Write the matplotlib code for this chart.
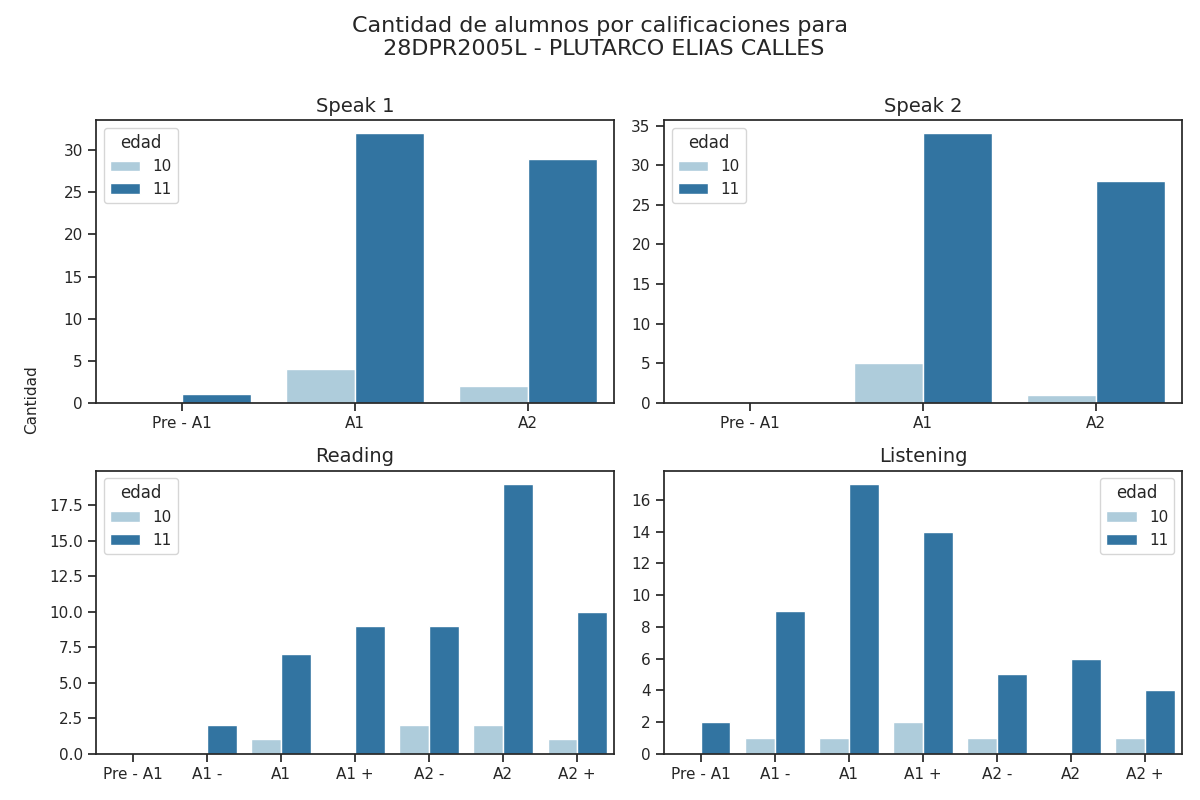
import matplotlib
matplotlib.use("Agg")
import matplotlib.pyplot as plt
import seaborn as sns
import pandas as pd

sns.set_theme(style="ticks")

ages = [10, 11]
speak_cats = ["Pre - A1", "A1", "A2"]
full_cats = ["Pre - A1", "A1 -", "A1", "A1 +", "A2 -", "A2", "A2 +"]

speak1_10 = [0, 4, 2]
speak1_11 = [1, 32, 29]
speak2_10 = [0, 5, 1]
speak2_11 = [0, 34, 28]
reading_10 = [0, 0, 1, 0, 2, 2, 1]
reading_11 = [0, 2, 7, 9, 9, 19, 10]
listening_10 = [0, 1, 1, 2, 1, 0, 1]
listening_11 = [2, 9, 17, 14, 5, 6, 4]

panels = [
    ("Speak 1", speak_cats, speak1_10, speak1_11, "upper left"),
    ("Speak 2", speak_cats, speak2_10, speak2_11, "upper left"),
    ("Reading", full_cats, reading_10, reading_11, "upper left"),
    ("Listening", full_cats, listening_10, listening_11, "upper right"),
]

fig, axes = plt.subplots(2, 2, figsize=(12, 8), dpi=100)
for ax, (title, cats, v10, v11, loc) in zip(axes.flat, panels):
    df = pd.DataFrame({
        "cal": cats * 2,
        "edad": [10] * len(cats) + [11] * len(cats),
        "n": v10 + v11,
    })
    sns.barplot(data=df, x="cal", y="n", hue="edad", order=cats,
                palette=sns.color_palette("Paired")[:2], ax=ax)
    ax.set_title(title, fontsize=14)
    ax.set_xlabel("")
    ax.set_ylabel("")
    ax.legend(title="edad", loc=loc, fontsize=11, title_fontsize=12)

fig.suptitle("Cantidad de alumnos por calificaciones para\n 28DPR2005L - PLUTARCO ELIAS CALLES", fontsize=16)
fig.supylabel("Cantidad", fontsize=11)
fig.subplots_adjust(left=0.08, right=0.985, top=0.85, bottom=0.058,
                    hspace=0.24, wspace=0.096)
fig.savefig("out.png")
